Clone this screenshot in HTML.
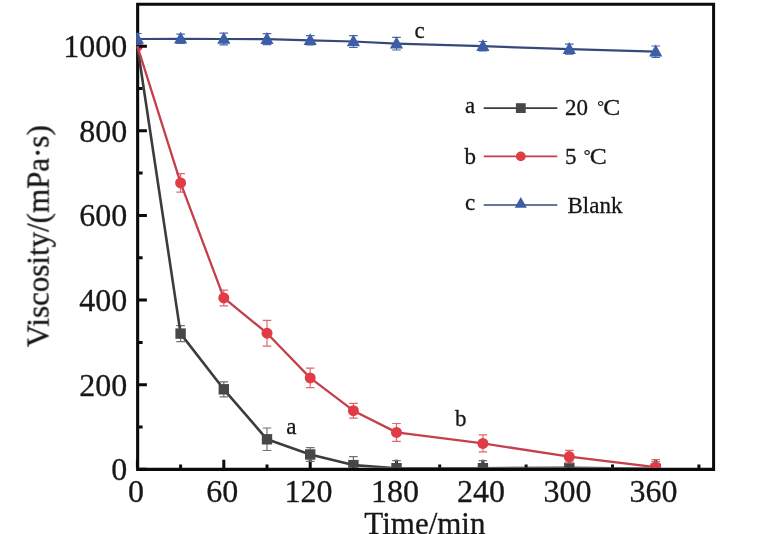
<!DOCTYPE html>
<html><head><meta charset="utf-8"><title>Chart</title>
<style>html,body{margin:0;padding:0;background:#fff;}body{width:782px;height:534px;position:relative;overflow:hidden;font-family:"Liberation Serif",serif;}</style></head>
<body>
<svg width="782" height="534" viewBox="0 0 782 534" style="position:absolute;left:0;top:0">
<rect width="782" height="534" fill="#fff"/>
<path d="M137.4 40.7a5.5 5.5 0 0 1 0 11z" fill="#e03c46"/>
<path d="M136.1 2.7H715.1V471H136.1ZM139.2 5.8V467.7H712.1V5.8Z" fill="#0c0a0a" fill-rule="evenodd"/>
<path d="M139 469.3h7.9M139 384.7h7.9M139 300.1h7.9M139 215.4h7.9M139 130.8h7.9M139 46.2h7.9M139 427.0h3.6M139 342.4h3.6M139 257.8h3.6M139 173.1h3.6M139 88.5h3.6M137.4 468v-8.2M223.8 468v-8.2M310.2 468v-8.2M396.5 468v-8.2M482.9 468v-8.2M569.3 468v-8.2M655.7 468v-8.2M180.6 468v-3.4M267.0 468v-3.4M353.4 468v-3.4M439.7 468v-3.4M526.1 468v-3.4M612.5 468v-3.4M698.9 468v-3.4" stroke="#0a0a0a" stroke-width="3" fill="none"/>
<defs><clipPath id="cp"><rect x="136.1" y="2.7" width="579" height="465.1"/></clipPath></defs>
<g clip-path="url(#cp)">
<path d="M180.6 325.6V341.7M176.3 325.6H184.9M176.3 341.7H184.9" stroke="#707070" stroke-width="1.2" fill="none"/>
<path d="M223.8 381.8V396.8M219.5 381.8H228.1M219.5 396.8H228.1" stroke="#707070" stroke-width="1.2" fill="none"/>
<path d="M267.0 428.0V450.5M262.7 428.0H271.3M262.7 450.5H271.3" stroke="#707070" stroke-width="1.2" fill="none"/>
<path d="M310.2 447.7V461.3M305.9 447.7H314.5M305.9 461.3H314.5" stroke="#707070" stroke-width="1.2" fill="none"/>
<path d="M353.4 456.6V473.5M349.1 456.6H357.7M349.1 473.5H357.7" stroke="#707070" stroke-width="1.2" fill="none"/>
<path d="M396.5 460.6V475.9M392.2 460.6H400.8M392.2 475.9H400.8" stroke="#707070" stroke-width="1.2" fill="none"/>
<path d="M482.9 460.6V475.9M478.6 460.6H487.2M478.6 475.9H487.2" stroke="#707070" stroke-width="1.2" fill="none"/>
<path d="M569.3 461.0V474.6M565.0 461.0H573.6M565.0 474.6H573.6" stroke="#707070" stroke-width="1.2" fill="none"/>
<path d="M655.7 461.9V475.4M651.4 461.9H660.0M651.4 475.4H660.0" stroke="#707070" stroke-width="1.2" fill="none"/>
<polyline points="137.4,46.2 180.6,333.6 223.8,389.3 267.0,439.3 310.2,454.5 353.4,465.1 396.5,468.2 482.9,468.2 569.3,467.8 655.7,468.7" fill="none" stroke="#3c3c3c" stroke-width="2.6" stroke-linejoin="round"/>
<rect x="175.4" y="328.4" width="10.4" height="10.4" fill="#474747"/>
<rect x="218.6" y="384.1" width="10.4" height="10.4" fill="#474747"/>
<rect x="261.8" y="434.1" width="10.4" height="10.4" fill="#474747"/>
<rect x="305.0" y="449.3" width="10.4" height="10.4" fill="#474747"/>
<rect x="348.2" y="459.9" width="10.4" height="10.4" fill="#474747"/>
<rect x="391.3" y="463.0" width="10.4" height="10.4" fill="#474747"/>
<rect x="477.7" y="463.0" width="10.4" height="10.4" fill="#474747"/>
<rect x="564.1" y="462.6" width="10.4" height="10.4" fill="#474747"/>
<rect x="650.5" y="463.5" width="10.4" height="10.4" fill="#474747"/>
<path d="M180.6 173.6V192.2M176.3 173.6H184.9M176.3 192.2H184.9" stroke="#e0686e" stroke-width="1.2" fill="none"/>
<path d="M223.8 290.1V305.8M219.5 290.1H228.1M219.5 305.8H228.1" stroke="#e0686e" stroke-width="1.2" fill="none"/>
<path d="M267.0 320.3V346.1M262.7 320.3H271.3M262.7 346.1H271.3" stroke="#e0686e" stroke-width="1.2" fill="none"/>
<path d="M310.2 368.2V387.6M305.9 368.2H314.5M305.9 387.6H314.5" stroke="#e0686e" stroke-width="1.2" fill="none"/>
<path d="M353.4 403.3V418.1M349.1 403.3H357.7M349.1 418.1H357.7" stroke="#e0686e" stroke-width="1.2" fill="none"/>
<path d="M396.5 423.5V441.3M392.2 423.5H400.8M392.2 441.3H400.8" stroke="#e0686e" stroke-width="1.2" fill="none"/>
<path d="M482.9 434.9V451.9M478.6 434.9H487.2M478.6 451.9H487.2" stroke="#e0686e" stroke-width="1.2" fill="none"/>
<path d="M569.3 450.3V463.0M565.0 450.3H573.6M565.0 463.0H573.6" stroke="#e0686e" stroke-width="1.2" fill="none"/>
<path d="M655.7 459.6V474.8M651.4 459.6H660.0M651.4 474.8H660.0" stroke="#e0686e" stroke-width="1.2" fill="none"/>
<polyline points="137.4,46.2 180.6,182.9 223.8,297.9 267.0,333.2 310.2,377.9 353.4,410.7 396.5,432.4 482.9,443.4 569.3,456.6 655.7,467.2" fill="none" stroke="#c4404c" stroke-width="2.3" stroke-linejoin="round"/>
<circle cx="180.6" cy="182.9" r="5.5" fill="#e03c46"/>
<circle cx="223.8" cy="297.9" r="5.5" fill="#e03c46"/>
<circle cx="267.0" cy="333.2" r="5.5" fill="#e03c46"/>
<circle cx="310.2" cy="377.9" r="5.5" fill="#e03c46"/>
<circle cx="353.4" cy="410.7" r="5.5" fill="#e03c46"/>
<circle cx="396.5" cy="432.4" r="5.5" fill="#e03c46"/>
<circle cx="482.9" cy="443.4" r="5.5" fill="#e03c46"/>
<circle cx="569.3" cy="456.6" r="5.5" fill="#e03c46"/>
<circle cx="655.7" cy="467.2" r="5.5" fill="#e03c46"/>
<path d="M137.4 33.5V44.5M133.1 33.5H141.7M133.1 44.5H141.7" stroke="#4a66a8" stroke-width="1.2" fill="none"/>
<path d="M180.6 34.1V43.4M176.3 34.1H184.9M176.3 43.4H184.9" stroke="#4a66a8" stroke-width="1.2" fill="none"/>
<path d="M223.8 33.1V44.9M219.5 33.1H228.1M219.5 44.9H228.1" stroke="#4a66a8" stroke-width="1.2" fill="none"/>
<path d="M267.0 33.7V44.7M262.7 33.7H271.3M262.7 44.7H271.3" stroke="#4a66a8" stroke-width="1.2" fill="none"/>
<path d="M310.2 35.6V44.9M305.9 35.6H314.5M305.9 44.9H314.5" stroke="#4a66a8" stroke-width="1.2" fill="none"/>
<path d="M353.4 35.6V47.5M349.1 35.6H357.7M349.1 47.5H357.7" stroke="#4a66a8" stroke-width="1.2" fill="none"/>
<path d="M396.5 37.3V50.0M392.2 37.3H400.8M392.2 50.0H400.8" stroke="#4a66a8" stroke-width="1.2" fill="none"/>
<path d="M482.9 41.5V50.9M478.6 41.5H487.2M478.6 50.9H487.2" stroke="#4a66a8" stroke-width="1.2" fill="none"/>
<path d="M569.3 44.1V54.2M565.0 44.1H573.6M565.0 54.2H573.6" stroke="#4a66a8" stroke-width="1.2" fill="none"/>
<path d="M655.7 46.0V57.4M651.4 46.0H660.0M651.4 57.4H660.0" stroke="#4a66a8" stroke-width="1.2" fill="none"/>
<polyline points="137.4,39.0 180.6,38.8 223.8,39.0 267.0,39.2 310.2,40.3 353.4,41.5 396.5,43.7 482.9,46.2 569.3,49.2 655.7,51.7" fill="none" stroke="#35497a" stroke-width="2.2" stroke-linejoin="round"/>
<path d="M137.4 31.9L144.0 43.7H130.8Z" fill="#3d5ea6"/>
<path d="M180.6 31.7L187.2 43.5H174.0Z" fill="#3d5ea6"/>
<path d="M223.8 31.9L230.4 43.7H217.2Z" fill="#3d5ea6"/>
<path d="M267.0 32.1L273.6 43.9H260.4Z" fill="#3d5ea6"/>
<path d="M310.2 33.2L316.8 45.0H303.6Z" fill="#3d5ea6"/>
<path d="M353.4 34.4L360.0 46.2H346.8Z" fill="#3d5ea6"/>
<path d="M396.5 36.6L403.1 48.4H389.9Z" fill="#3d5ea6"/>
<path d="M482.9 39.1L489.5 50.9H476.3Z" fill="#3d5ea6"/>
<path d="M569.3 42.1L575.9 53.9H562.7Z" fill="#3d5ea6"/>
<path d="M655.7 44.6L662.3 56.4H649.1Z" fill="#3d5ea6"/>
</g>
<g font-family="Liberation Serif, serif" fill="#161616" stroke="#161616" stroke-width="0.3" opacity="0.995">
<g font-size="32">
<text x="127.3" y="480.2" text-anchor="end">0</text>
<text x="127.3" y="395.6" text-anchor="end">200</text>
<text x="127.3" y="311.0" text-anchor="end">400</text>
<text x="127.3" y="226.3" text-anchor="end">600</text>
<text x="127.3" y="141.7" text-anchor="end">800</text>
<text x="127.3" y="57.1" text-anchor="end">1000</text>
<text x="136.1" y="502.4" text-anchor="middle">0</text>
<text x="222.3" y="502.4" text-anchor="middle">60</text>
<text x="308.6" y="502.4" text-anchor="middle">120</text>
<text x="394.9" y="502.4" text-anchor="middle">180</text>
<text x="481.1" y="502.4" text-anchor="middle">240</text>
<text x="567.4" y="502.4" text-anchor="middle">300</text>
<text x="653.6" y="502.4" text-anchor="middle">360</text>
</g>
<g font-size="31">
<text x="424.9" y="534" text-anchor="middle">Time/min</text>
<text transform="translate(48.6 236.2) rotate(-90)" text-anchor="middle">Viscosity/(mPa·s)</text>
</g>
<g font-size="23">
<text x="414.5" y="38.1">c</text>
<text x="286.3" y="434.3">a</text>
<text x="455" y="426">b</text>
<text x="465" y="113.1">a</text>
<text x="464.5" y="164.3">b</text>
<text x="465" y="210">c</text>
<text x="565" y="115.1">20 <tspan font-size="17" dx="3.4" dy="-3.3">°</tspan></text><text transform="translate(603.3 115.1) scale(1.11 1)">C</text>
<text x="565" y="164.3">5 <tspan font-size="17" dx="1.4" dy="-3.3">°</tspan></text><text transform="translate(589.7 164.3) scale(1.11 1)">C</text>
<text x="567.5" y="213.4">Blank</text>
</g></g>
<path d="M483.7 108.1H557.3" stroke="#3c3c3c" stroke-width="1.7"/>
<rect x="515.9" y="103.2" width="9.8" height="9.8" fill="#474747"/>
<path d="M483.7 156.4H557.3" stroke="#c4404c" stroke-width="1.7"/>
<circle cx="520.8" cy="156.4" r="4.9" fill="#e03c46"/>
<path d="M483.7 205H557.3" stroke="#35497a" stroke-width="1.7"/>
<path d="M520.8 197.0L526.9 207.7H514.7Z" fill="#3d5ea6"/>
</svg>
</body></html>
